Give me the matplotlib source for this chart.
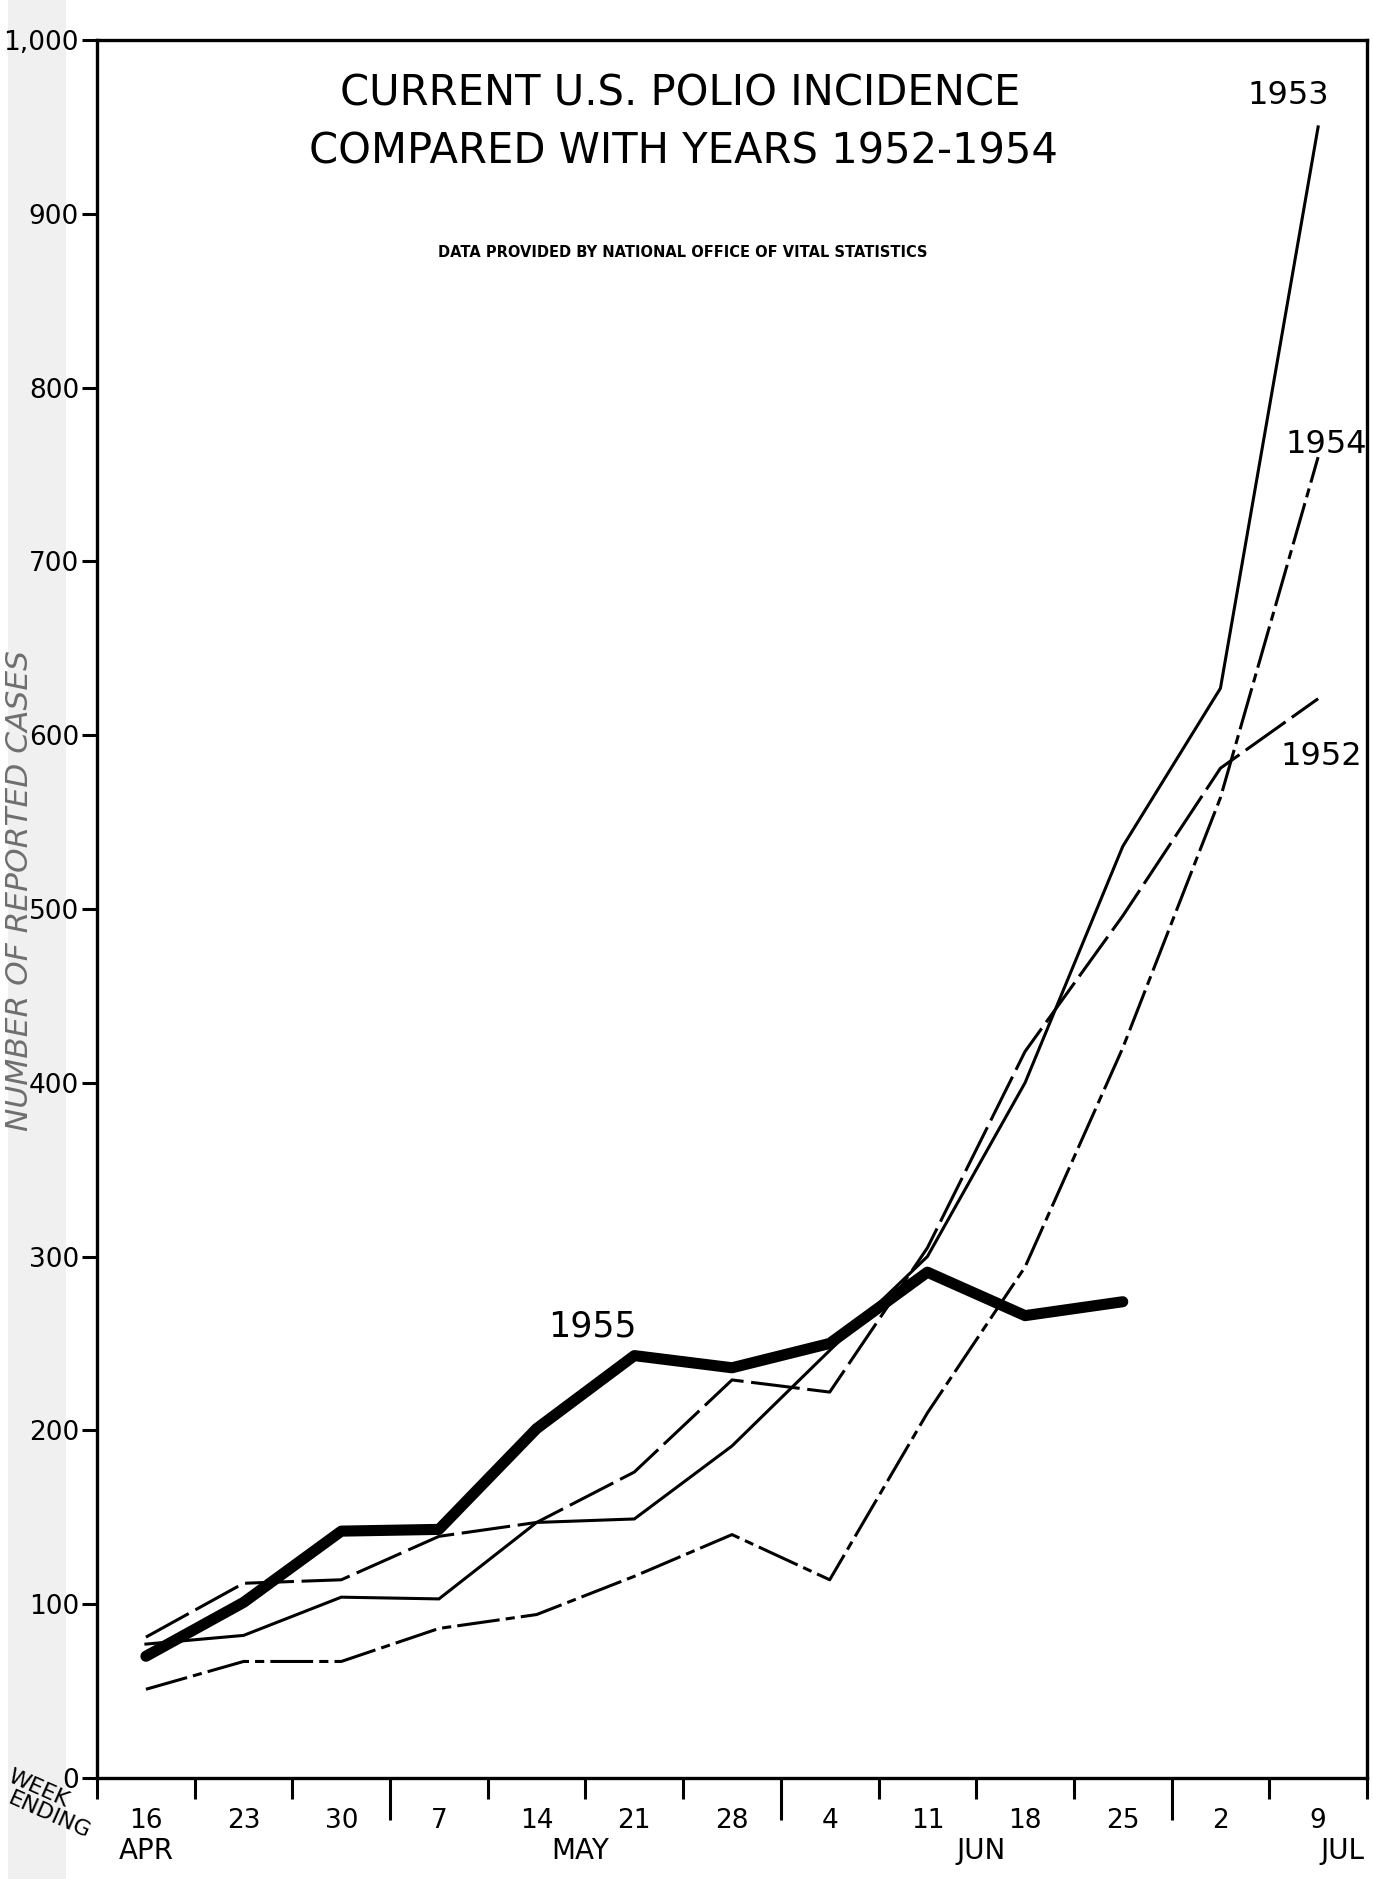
import matplotlib
matplotlib.use("Agg")
import matplotlib.pyplot as plt
from matplotlib.patches import Rectangle
import matplotlib.transforms as mtransforms

# ---- data ----
weeks = ['16', '23', '30', '7', '14', '21', '28', '4', '11', '18', '25', '2', '9']
months = ['APR', 'MAY', 'JUN', 'JUL']
month_pos = [0, 4.45, 8.55, 12.25]
month_bounds = [2.5, 6.5, 10.5]
cases_1955 = [70, 101, 142, 143, 201, 243, 236, 250, 291, 266, 274]
cases_1954 = [51, 67, 67, 86, 94, 116, 140, 114, 210, 294, 420, 564, 760]
cases_1953 = [77, 82, 104, 103, 147, 149, 191, 246, 300, 400, 536, 627, 950]
cases_1952 = [81, 112, 114, 139, 147, 176, 229, 222, 305, 418, 496, 581, 621]
yticks = [0, 100, 200, 300, 400, 500, 600, 700, 800, 900, 1000]
ytick_labels = ['0', '100', '200', '300', '400', '500', '600', '700', '800', '900', '1,000']

plt.rcParams['font.family'] = ['DejaVu Sans']

fig = plt.figure(figsize=(13.73, 18.79), dpi=100)
fig.patches.append(Rectangle((0.006, 0.0), 0.042, 1.0, transform=fig.transFigure,
                             facecolor='#f0f0f0', edgecolor='none', zorder=-10))
ax = fig.add_axes([0.0707, 0.0538, 0.9249, 0.9249])
ax.set_facecolor('white')

x_all = list(range(len(weeks)))
lw = 2.2
ax.plot(x_all, cases_1953, color='black', lw=lw, solid_joinstyle='miter')
ax.plot(x_all, cases_1952, color='black', lw=lw, linestyle=(0, (16, 2.5)))
ax.plot(x_all, cases_1954, color='black', lw=lw, linestyle=(0, (14, 2, 3, 2)))
ax.plot(x_all[:len(cases_1955)], cases_1955, color='black', lw=8,
        solid_joinstyle='round', solid_capstyle='round')

ax.set_xlim(-0.5, 12.5)
ax.set_ylim(0, 1000)

for s in ax.spines.values():
    s.set_linewidth(2.4)

ax.set_yticks(yticks)
ax.set_yticklabels(ytick_labels, fontsize=19)
ax.tick_params(axis='y', direction='out', length=11, width=2.2, pad=2)

# x ticks: long at month boundaries, short elsewhere
half = [i + 0.5 for i in range(-1, 13)]
short = [h for h in half if h not in month_bounds]
ax.set_xticks(month_bounds)
ax.set_xticklabels([])
ax.set_xticks(short, minor=True)
ax.tick_params(axis='x', which='major', direction='out', length=30, width=2.2)
ax.tick_params(axis='x', which='minor', direction='out', length=15, width=2.2)

sec = ax.secondary_xaxis('bottom')
sec.set_xticks(x_all)
sec.set_xticklabels(weeks, fontsize=19)
sec.tick_params(length=0, pad=22)
sec.spines['bottom'].set_visible(False)

trans = mtransforms.blended_transform_factory(ax.transData, ax.transAxes)
for m, p in zip(months, month_pos):
    ax.text(p, -0.042, m, transform=trans, fontsize=20, ha='center', va='center',
            clip_on=False)

fig.text(0.028, 0.048, 'WEEK', fontsize=16, rotation=-24, ha='center', va='center')
fig.text(0.036, 0.034, 'ENDING', fontsize=16, rotation=-24, ha='center', va='center')

fig.text(0.014, 0.526, 'NUMBER OF REPORTED CASES', fontsize=22.5, style='italic',
         color='#6e6e6e', rotation=90, ha='center', va='center')

# titles
ax.text(0.459, 0.969, 'CURRENT U.S. POLIO INCIDENCE', transform=ax.transAxes,
        fontsize=30, ha='center', va='center')
ax.text(0.462, 0.936, 'COMPARED WITH YEARS 1952-1954', transform=ax.transAxes,
        fontsize=30, ha='center', va='center')
ax.text(0.461, 0.878, 'DATA PROVIDED BY NATIONAL OFFICE OF VITAL STATISTICS',
        transform=ax.transAxes, fontsize=10.5, fontweight='bold', ha='center', va='center')

# series labels
ax.text(11.69, 968, '1953', fontsize=23, ha='center', va='center')
ax.text(12.08, 767, '1954', fontsize=23, ha='center', va='center')
ax.text(12.03, 588, '1952', fontsize=23, ha='center', va='center')
ax.text(4.57, 260, '1955', fontsize=25, ha='center', va='center')

fig.savefig('out.png', dpi=100)
